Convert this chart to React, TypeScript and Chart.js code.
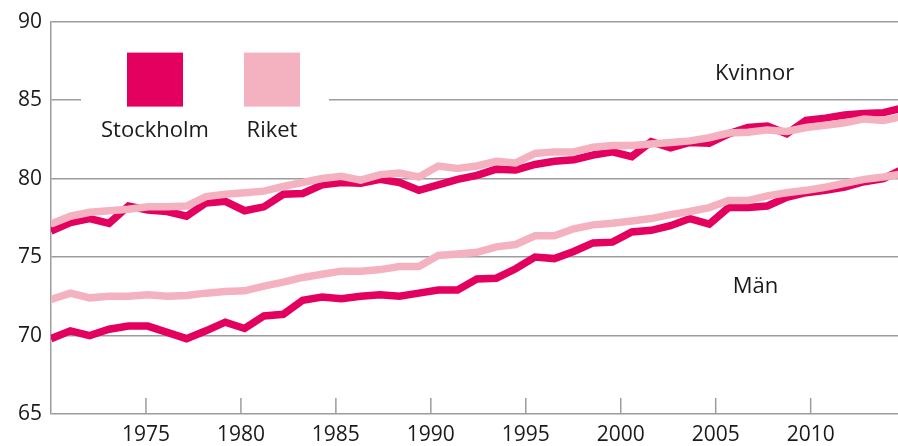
import React, { useEffect, useRef } from 'react';
import { Chart, registerables } from 'chart.js';

Chart.register(...registerables);

const years = [
  1970, 1971, 1972, 1973, 1974, 1975, 1976, 1977, 1978, 1979,
  1980, 1981, 1982, 1983, 1984, 1985, 1986, 1987, 1988, 1989,
  1990, 1991, 1992, 1993, 1994, 1995, 1996, 1997, 1998, 1999,
  2000, 2001, 2002, 2003, 2004, 2005, 2006, 2007, 2008, 2009,
  2010, 2011, 2012, 2013, 2014,
];

const stockholmWomen = [
  76.65, 77.2, 77.45, 77.15, 78.25, 78.0, 77.9, 77.6, 78.45, 78.55,
  77.95, 78.2, 79.0, 79.05, 79.6, 79.75, 79.7, 79.95, 79.75, 79.25,
  79.6, 79.95, 80.2, 80.6, 80.55, 80.9, 81.1, 81.2, 81.5, 81.7,
  81.4, 82.35, 81.95, 82.3, 82.25, 82.85, 83.25, 83.35, 82.85, 83.7,
  83.85, 84.05, 84.15, 84.2, 84.5,
];

const riketWomen = [
  77.1, 77.6, 77.85, 77.95, 78.05, 78.2, 78.2, 78.25, 78.85, 79.0,
  79.1, 79.2, 79.5, 79.75, 80.0, 80.15, 79.9, 80.25, 80.35, 80.1,
  80.8, 80.65, 80.8, 81.1, 81.0, 81.6, 81.7, 81.7, 82.0, 82.1,
  82.1, 82.2, 82.3, 82.4, 82.6, 82.9, 82.95, 83.1, 83.0, 83.25,
  83.4, 83.55, 83.8, 83.7, 83.95,
];

const stockholmMen = [
  69.8, 70.3, 70.0, 70.4, 70.6, 70.6, 70.2, 69.8, 70.3, 70.85,
  70.45, 71.25, 71.35, 72.25, 72.45, 72.35, 72.5, 72.6, 72.5, 72.7,
  72.9, 72.9, 73.6, 73.65, 74.25, 75.0, 74.9, 75.35, 75.9, 75.95,
  76.6, 76.7, 77.0, 77.45, 77.1, 78.15, 78.15, 78.25, 78.8, 79.1,
  79.25, 79.45, 79.8, 80.0, 80.6,
];

const riketMen = [
  72.3, 72.7, 72.4, 72.5, 72.5, 72.6, 72.5, 72.55, 72.7, 72.8,
  72.85, 73.15, 73.4, 73.7, 73.9, 74.1, 74.1, 74.2, 74.4, 74.4,
  75.1, 75.2, 75.3, 75.65, 75.8, 76.35, 76.35, 76.8, 77.05, 77.15,
  77.3, 77.45, 77.7, 77.9, 78.15, 78.6, 78.6, 78.9, 79.1, 79.25,
  79.45, 79.7, 79.95, 80.1, 80.3,
];

const xTicks = [1975, 1980, 1985, 1990, 1995, 2000, 2005, 2010];
const yTicks = [65, 70, 75, 80, 85, 90];

const legendLabels = ['Stockholm', 'Riket'];
const STOCKHOLM = '#e4005e';
const RIKET = '#f4b2c1';
const legendColors = [STOCKHOLM, RIKET];

const groupLabels = ['Kvinnor', 'Män'];
const groupX = [2007.05, 2007.1];
const groupY = [86.3, 72.7];

const GRID = '#9c9c9c';
const TEXT = '#1a1a1a';
const FONT = '"Open Sans", sans-serif';

const toPoints = (vals: number[]) => years.map((yr, i) => ({ x: yr, y: vals[i] }));

const overlayPlugin = {
  id: 'overlay',
  beforeDatasetsDraw(chart: any) {
    const ctx = chart.ctx;
    const area = chart.chartArea;
    const x2 = chart.scales.x2;
    ctx.save();
    // inward tick marks on the x axis
    ctx.strokeStyle = GRID;
    ctx.lineWidth = 1.5;
    x2.ticks.forEach((t: any) => {
      const px = x2.getPixelForValue(t.value);
      ctx.beginPath();
      ctx.moveTo(px, area.bottom);
      ctx.lineTo(px, area.bottom - 16);
      ctx.stroke();
    });
    // legend block
    ctx.fillStyle = '#ffffff';
    ctx.fillRect(area.left + 30, area.top + 10, 248, 130);
    legendLabels.forEach((label, i) => {
      const cx = area.left + 104 + i * 117;
      ctx.fillStyle = legendColors[i];
      ctx.fillRect(cx - 28, area.top + 31, 56, 54);
      ctx.fillStyle = TEXT;
      ctx.font = `22px ${FONT}`;
      ctx.textAlign = 'center';
      ctx.textBaseline = 'alphabetic';
      ctx.fillText(label, cx, area.top + 115);
    });
    ctx.restore();
  },
  afterDatasetsDraw(chart: any) {
    const ctx = chart.ctx;
    const x2 = chart.scales.x2;
    const y = chart.scales.y;
    ctx.save();
    ctx.fillStyle = TEXT;
    ctx.font = `22px ${FONT}`;
    ctx.textAlign = 'center';
    ctx.textBaseline = 'alphabetic';
    groupLabels.forEach((label, i) => {
      ctx.fillText(label, x2.getPixelForValue(groupX[i]), y.getPixelForValue(groupY[i]));
    });
    ctx.restore();
  },
};

export default function App() {
  const canvasRef = useRef<HTMLCanvasElement | null>(null);

  useEffect(() => {
    document.body.style.margin = '0';
    const canvas = canvasRef.current;
    if (!canvas) return;
    const lineDefaults = {
      borderWidth: 7.5,
      pointRadius: 0,
      tension: 0,
      fill: false,
      borderJoinStyle: 'miter' as const,
      xAxisID: 'x',
      yAxisID: 'y',
    };
    const chart = new Chart(canvas, {
      type: 'line',
      data: {
        datasets: [
          { ...lineDefaults, label: 'Riket kvinnor', data: toPoints(riketWomen), borderColor: RIKET, backgroundColor: RIKET },
          { ...lineDefaults, label: 'Riket män', data: toPoints(riketMen), borderColor: RIKET, backgroundColor: RIKET },
          { ...lineDefaults, label: 'Stockholm kvinnor', data: toPoints(stockholmWomen), borderColor: STOCKHOLM, backgroundColor: STOCKHOLM },
          { ...lineDefaults, label: 'Stockholm män', data: toPoints(stockholmMen), borderColor: STOCKHOLM, backgroundColor: STOCKHOLM },
        ],
      },
      options: {
        animation: false,
        responsive: true,
        maintainAspectRatio: false,
        layout: { padding: { top: 20, left: 0, right: 0, bottom: 0 } },
        plugins: {
          legend: { display: false },
          tooltip: { enabled: false },
          title: { display: false },
        },
        scales: {
          x: {
            type: 'linear',
            display: false,
            min: 1970,
            max: 2013.75,
          },
          x2: {
            type: 'linear',
            position: 'bottom',
            min: 1970,
            max: 2014.6,
            afterBuildTicks: (scale: any) => {
              scale.ticks = xTicks.map((v) => ({ value: v }));
            },
            afterFit: (scale: any) => {
              scale.height = 32;
            },
            grid: { display: false, drawTicks: false },
            border: { display: false },
            ticks: {
              autoSkip: false,
              maxRotation: 0,
              padding: 8,
              color: TEXT,
              font: { family: FONT, size: 21 },
              callback: (v: any) => String(v),
            },
          },
          y: {
            type: 'linear',
            min: 65,
            max: 90,
            afterBuildTicks: (scale: any) => {
              scale.ticks = yTicks.map((v) => ({ value: v }));
            },
            afterFit: (scale: any) => {
              scale.width = 51;
            },
            grid: { color: GRID, lineWidth: 1.5, drawTicks: false },
            border: { display: true, color: GRID, width: 1.5 },
            ticks: {
              padding: 9,
              color: TEXT,
              font: { family: FONT, size: 21 },
              callback: (v: any) => String(v),
            },
          },
        },
      },
      plugins: [overlayPlugin],
    });
    return () => chart.destroy();
  }, []);

  return (
    <div style={{ width: '898px', height: '446px', position: 'relative' }}>
      <canvas ref={canvasRef} />
    </div>
  );
}
